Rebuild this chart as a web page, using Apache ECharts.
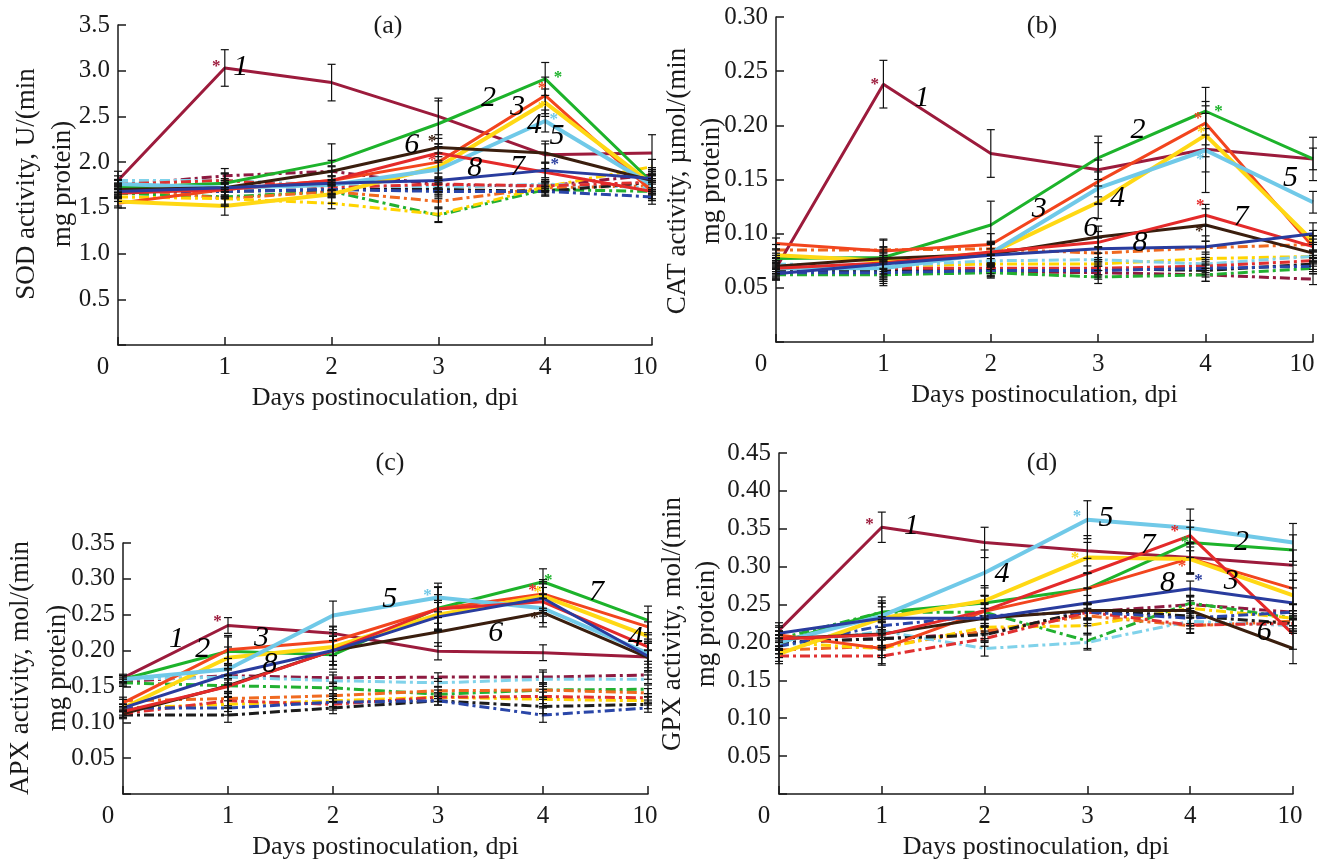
<!DOCTYPE html>
<html><head><meta charset="utf-8">
<script src="https://cdn.jsdelivr.net/npm/echarts@6/dist/echarts.min.js"></script>
<style>html,body{margin:0;padding:0;background:#fff}#c{width:1325px;height:861px}</style>
</head><body><div id="c"></div>
<script>
// ---------------- DATA ----------------
const xLabels = ['0', '1', '2', '3', '4', '10'];
const seriesNames = ['1', '2', '3', '4', '5', '6', '7', '8'];

// (a) SOD
const sodTreated = [
  [1.80, 3.03, 2.87, 2.50, 2.08, 2.10],
  [1.72, 1.77, 2.00, 2.42, 2.91, 1.78],
  [1.55, 1.70, 1.80, 2.00, 2.73, 1.68],
  [1.57, 1.52, 1.65, 1.95, 2.65, 1.76],
  [1.76, 1.72, 1.75, 1.92, 2.45, 1.75],
  [1.70, 1.72, 1.90, 2.16, 2.10, 1.80],
  [1.66, 1.70, 1.80, 2.10, 1.89, 1.68],
  [1.68, 1.72, 1.77, 1.80, 1.91, 1.82]
];
const sodTreatedErr = [
  [0.10, 0.20, 0.20, 0.20, 0.15, 0.20],
  [0.05, 0.10, 0.20, 0.25, 0.18, 0.10],
  [0.05, 0.08, 0.15, 0.20, 0.20, 0.10],
  [0.05, 0.10, 0.10, 0.15, 0.15, 0.10],
  [0.05, 0.10, 0.10, 0.10, 0.12, 0.10],
  [0.05, 0.08, 0.12, 0.10, 0.10, 0.10],
  [0.05, 0.08, 0.10, 0.10, 0.10, 0.10],
  [0.05, 0.08, 0.08, 0.08, 0.08, 0.10]
];
const sodControl = [
  [1.75, 1.85, 1.90, 1.75, 1.74, 1.86],
  [1.66, 1.62, 1.68, 1.42, 1.70, 1.68],
  [1.72, 1.60, 1.68, 1.57, 1.72, 1.74],
  [1.62, 1.60, 1.55, 1.43, 1.73, 1.95],
  [1.80, 1.80, 1.75, 1.72, 1.76, 1.72],
  [1.70, 1.68, 1.70, 1.70, 1.68, 1.78],
  [1.76, 1.80, 1.72, 1.76, 1.74, 1.78],
  [1.68, 1.68, 1.70, 1.68, 1.68, 1.62]
];
const sodControlErr = [0.05, 0.08, 0.06, 0.08, 0.05, 0.08];
const sodStars = [[0.92, 3.05, 0], [4.12, 2.92, 1], [3.97, 2.80, 2], [3.97, 2.60, 3], [4.08, 2.47, 4], [2.94, 2.23, 5], [2.94, 2.02, 6], [4.09, 1.97, 7]];
const sodNums = [[1.15, 3.04, '1'], [3.47, 2.70, '2'], [3.74, 2.60, '3'], [3.90, 2.41, '4'], [4.11, 2.28, '5'], [2.75, 2.19, '6'], [3.74, 1.95, '7'], [3.34, 1.93, '8']];

// (b) CAT
const catTreated = [
  [0.068, 0.238, 0.174, 0.159, 0.178, 0.169],
  [0.077, 0.078, 0.108, 0.170, 0.213, 0.169],
  [0.091, 0.084, 0.090, 0.148, 0.202, 0.088],
  [0.080, 0.075, 0.082, 0.129, 0.191, 0.093],
  [0.068, 0.068, 0.082, 0.142, 0.177, 0.129],
  [0.070, 0.077, 0.081, 0.097, 0.108, 0.082],
  [0.068, 0.073, 0.083, 0.092, 0.117, 0.088],
  [0.063, 0.072, 0.080, 0.086, 0.088, 0.100]
];
const catTreatedErr = [
  [0.010, 0.022, 0.022, 0.025, 0.040, 0.020],
  [0.005, 0.010, 0.022, 0.020, 0.022, 0.010],
  [0.005, 0.010, 0.010, 0.020, 0.020, 0.010],
  [0.005, 0.010, 0.010, 0.015, 0.020, 0.010],
  [0.005, 0.010, 0.010, 0.015, 0.020, 0.010],
  [0.005, 0.010, 0.010, 0.010, 0.015, 0.010],
  [0.005, 0.010, 0.010, 0.010, 0.010, 0.010],
  [0.005, 0.010, 0.010, 0.010, 0.010, 0.010]
];
const catControl = [
  [0.065, 0.066, 0.065, 0.064, 0.062, 0.058],
  [0.062, 0.062, 0.064, 0.060, 0.062, 0.068],
  [0.085, 0.085, 0.086, 0.082, 0.087, 0.090],
  [0.070, 0.070, 0.072, 0.072, 0.077, 0.079],
  [0.072, 0.070, 0.075, 0.076, 0.072, 0.079],
  [0.066, 0.066, 0.066, 0.068, 0.066, 0.072],
  [0.068, 0.068, 0.068, 0.068, 0.070, 0.075],
  [0.064, 0.064, 0.066, 0.066, 0.068, 0.070]
];
const catControlErr = [0.005, 0.010, 0.005, 0.006, 0.006, 0.005];
const catStars = [[0.92, 0.238, 0], [4.12, 0.213, 1], [3.93, 0.206, 2], [3.96, 0.193, 3], [3.95, 0.168, 4], [3.94, 0.102, 5], [3.95, 0.126, 6]];
const catNums = [[1.36, 0.225, '1'], [3.37, 0.196, '2'], [2.45, 0.123, '3'], [3.18, 0.133, '4'], [4.79, 0.151, '5'], [2.93, 0.105, '6'], [4.33, 0.115, '7'], [3.39, 0.091, '8']];

// (c) APX
const apxTreated = [
  [0.162, 0.235, 0.224, 0.199, 0.197, 0.191],
  [0.160, 0.199, 0.194, 0.259, 0.296, 0.242],
  [0.127, 0.201, 0.213, 0.258, 0.279, 0.233],
  [0.120, 0.190, 0.205, 0.250, 0.276, 0.220],
  [0.160, 0.174, 0.249, 0.274, 0.259, 0.196],
  [0.112, 0.151, 0.200, 0.226, 0.253, 0.190],
  [0.115, 0.150, 0.200, 0.258, 0.268, 0.205],
  [0.120, 0.167, 0.200, 0.247, 0.273, 0.192]
];
const apxTreatedErr = [
  [0.005, 0.011, 0.010, 0.012, 0.011, 0.010],
  [0.005, 0.020, 0.020, 0.030, 0.018, 0.020],
  [0.005, 0.020, 0.020, 0.030, 0.020, 0.020],
  [0.005, 0.015, 0.020, 0.020, 0.020, 0.020],
  [0.005, 0.015, 0.020, 0.020, 0.020, 0.020],
  [0.005, 0.015, 0.020, 0.020, 0.020, 0.020],
  [0.005, 0.015, 0.020, 0.020, 0.020, 0.020],
  [0.005, 0.015, 0.020, 0.020, 0.020, 0.020]
];
const apxControl = [
  [0.157, 0.165, 0.162, 0.163, 0.163, 0.166],
  [0.155, 0.151, 0.148, 0.139, 0.145, 0.146],
  [0.130, 0.133, 0.137, 0.144, 0.145, 0.141],
  [0.120, 0.125, 0.130, 0.135, 0.132, 0.130],
  [0.160, 0.163, 0.158, 0.155, 0.160, 0.160],
  [0.110, 0.110, 0.120, 0.130, 0.122, 0.125],
  [0.112, 0.130, 0.125, 0.135, 0.136, 0.134],
  [0.120, 0.120, 0.128, 0.130, 0.110, 0.120]
];
const apxControlErr = [0.005, 0.010, 0.008, 0.006, 0.010, 0.006];
const apxStars = [[0.9, 0.240, 0], [4.05, 0.298, 1], [3.95, 0.281, 3], [2.9, 0.277, 4], [3.92, 0.245, 5], [3.9, 0.283, 6]];
const apxNums = [[0.51, 0.216, '1'], [0.76, 0.202, '2'], [1.32, 0.218, '3'], [4.88, 0.218, '4'], [2.54, 0.272, '5'], [3.55, 0.225, '6'], [4.51, 0.281, '7'], [1.40, 0.181, '8']];

// (d) GPX
const gpxTreated = [
  [0.216, 0.352, 0.332, 0.321, 0.312, 0.302],
  [0.200, 0.240, 0.252, 0.271, 0.332, 0.322],
  [0.210, 0.192, 0.241, 0.271, 0.311, 0.271],
  [0.185, 0.232, 0.255, 0.312, 0.310, 0.262],
  [0.200, 0.235, 0.292, 0.362, 0.351, 0.332],
  [0.205, 0.211, 0.232, 0.242, 0.242, 0.192],
  [0.205, 0.210, 0.242, 0.291, 0.341, 0.211],
  [0.212, 0.232, 0.232, 0.252, 0.271, 0.252]
];
const gpxTreatedErr = [
  [0.010, 0.020, 0.020, 0.020, 0.020, 0.020],
  [0.010, 0.020, 0.020, 0.020, 0.020, 0.020],
  [0.010, 0.020, 0.020, 0.020, 0.020, 0.020],
  [0.010, 0.020, 0.020, 0.020, 0.020, 0.020],
  [0.010, 0.020, 0.030, 0.025, 0.025, 0.025],
  [0.010, 0.015, 0.020, 0.020, 0.020, 0.020],
  [0.010, 0.020, 0.020, 0.020, 0.020, 0.020],
  [0.010, 0.015, 0.020, 0.020, 0.010, 0.020]
];
const gpxControl = [
  [0.200, 0.205, 0.212, 0.240, 0.250, 0.240],
  [0.205, 0.240, 0.240, 0.202, 0.252, 0.232],
  [0.190, 0.195, 0.215, 0.235, 0.222, 0.228],
  [0.200, 0.192, 0.220, 0.222, 0.245, 0.232],
  [0.195, 0.215, 0.192, 0.200, 0.228, 0.222],
  [0.200, 0.205, 0.210, 0.242, 0.235, 0.225],
  [0.182, 0.182, 0.205, 0.240, 0.223, 0.225],
  [0.195, 0.222, 0.235, 0.240, 0.232, 0.240]
];
const gpxControlErr = [0.010, 0.012, 0.010, 0.010, 0.010, 0.010];
const gpxStars = [[0.88, 0.356, 0], [3.95, 0.332, 1], [3.92, 0.300, 2], [2.88, 0.310, 3], [2.9, 0.366, 4], [3.85, 0.346, 6], [4.08, 0.281, 7]];
const gpxNums = [[1.29, 0.353, '1'], [4.50, 0.332, '2'], [4.40, 0.281, '3'], [2.17, 0.290, '4'], [3.18, 0.364, '5'], [4.72, 0.213, '6'], [3.59, 0.328, '7'], [3.78, 0.278, '8']];

const panelTitles = ['(a)', '(b)', '(c)', '(d)'];
const yNames = [
  ['SOD activity, U/(min', 'mg protein)'],
  ['CAT activity, \u00b5mol/(min', 'mg protein)'],
  ['APX activity, mol/(min', 'mg protein)'],
  ['GPX activity, mol/(min', 'mg protein)']
];
const xName = 'Days postinoculation, dpi';

// ---------------- STYLE / LAYOUT ----------------
const FONT = '"Liberation Serif", "Times New Roman", serif';
const TREAT_COLORS = ['#9c1b3c', '#1db32b', '#f2451e', '#ffd814', '#70c9e8', '#3a1e0e', '#e42a2a', '#293c9e'];
const CTRL_COLORS = ['#8e1a40', '#22b030', '#f06a20', '#ffd400', '#80d2ea', '#1c1c1c', '#e03030', '#2a46a8'];
const TREAT_W = [3, 3, 3, 4, 4, 3, 3, 3];
const INK = '#1a1a1a';

const panels = [
  { treated: sodTreated, tErr: sodTreatedErr, control: sodControl, cErr: sodControlErr, stars: sodStars, nums: sodNums,
    yMax: 3.5, yInt: 0.5, dec: 1, grid: { left: 118, top: 25, width: 534, height: 320 },
    title: [388, 26], yn: [[27, 184], [63, 184]], pad10: 14 },
  { treated: catTreated, tErr: catTreatedErr, control: catControl, cErr: catControlErr, stars: catStars, nums: catNums,
    yMax: 0.30, yInt: 0.05, dec: 2, grid: { left: 776, top: 17, width: 537, height: 325 },
    title: [1042, 26], yn: [[678, 181], [712, 181]], pad10: 22 },
  { treated: apxTreated, tErr: apxTreatedErr, control: apxControl, cErr: apxControlErr, stars: apxStars, nums: apxNums,
    yMax: 0.35, yInt: 0.05, dec: 2, grid: { left: 123, top: 543, width: 525, height: 253 },
    title: [390, 463], yn: [[21, 668], [58, 668]], pad10: 6 },
  { treated: gpxTreated, tErr: gpxTreatedErr, control: gpxControl, cErr: gpxControlErr, stars: gpxStars, nums: gpxNums,
    yMax: 0.45, yInt: 0.05, dec: 2, grid: { left: 779, top: 453, width: 514, height: 343 },
    title: [1042, 463], yn: [[673, 624], [707, 624]], pad10: 6 }
];

const grids = [], xAxes = [], yAxes = [], series = [], graphics = [];
const CLEAR = 'rgba(0,0,0,0)';

function errRender(params, api) {
  const x = api.value(0), lo = api.value(1), hi = api.value(2);
  const p1 = api.coord([x, lo]), p2 = api.coord([x, hi]);
  const w = 4, st = { stroke: '#111', lineWidth: 1.2 };
  return { type: 'group', children: [
    { type: 'line', shape: { x1: p1[0], y1: p1[1], x2: p2[0], y2: p2[1] }, style: st },
    { type: 'line', shape: { x1: p1[0] - w, y1: p1[1], x2: p1[0] + w, y2: p1[1] }, style: st },
    { type: 'line', shape: { x1: p2[0] - w, y1: p2[1], x2: p2[0] + w, y2: p2[1] }, style: st }
  ] };
}

panels.forEach((p, k) => {
  grids.push(Object.assign({ containLabel: false }, p.grid));
  xAxes.push({
    type: 'value', gridIndex: k, min: 0, max: 5, interval: 1,
    axisLine: { show: true, lineStyle: { color: INK, width: 1.5 } },
    axisTick: { show: true, inside: true, length: 8, lineStyle: { color: INK, width: 1.5 } },
    splitLine: { show: false },
    axisLabel: {
      show: true, showMinLabel: true, showMaxLabel: true, margin: 10,
      fontFamily: FONT, fontSize: 25, color: INK,
      formatter: v => {
        const t = xLabels[Math.round(v)];
        if (v === 0) return '{z|' + t + '}';
        if (v === 5) return '{t|' + t + '}';
        return t;
      },
      rich: {
        z: { fontFamily: FONT, fontSize: 25, color: INK, padding: [0, 30, 0, 0] },
        t: { fontFamily: FONT, fontSize: 25, color: INK, padding: [0, p.pad10, 0, 0] }
      }
    },
    name: xName, nameLocation: 'middle', nameGap: 40,
    nameTextStyle: { fontFamily: FONT, fontSize: 26, color: INK }
  });
  yAxes.push({
    type: 'value', gridIndex: k, min: 0, max: p.yMax, interval: p.yInt,
    axisLine: { show: true, lineStyle: { color: INK, width: 1.5 } },
    axisTick: { show: true, inside: true, length: 8, lineStyle: { color: INK, width: 1.5 } },
    splitLine: { show: false },
    axisLabel: {
      show: true, margin: 8, fontFamily: FONT, fontSize: 25, color: INK,
      formatter: v => (Math.abs(v) < 1e-9 ? '' : v.toFixed(p.dec))
    }
  });

  // control (dash-dot) lines
  p.control.forEach((vals, s) => {
    series.push({
      type: 'line', xAxisIndex: k, yAxisIndex: k, name: 'c' + seriesNames[s],
      data: vals.map((v, i) => [i, v]), showSymbol: false, symbol: 'none', silent: true,
      lineStyle: { color: CTRL_COLORS[s], width: 3, type: [10, 4, 3, 4] }, z: 2
    });
  });
  // treated (solid) lines
  p.treated.forEach((vals, s) => {
    series.push({
      type: 'line', xAxisIndex: k, yAxisIndex: k, name: seriesNames[s],
      data: vals.map((v, i) => [i, v]), showSymbol: false, symbol: 'none', silent: true,
      lineStyle: { color: TREAT_COLORS[s], width: TREAT_W[s], type: 'solid' }, z: 3
    });
  });
  // error bars
  const errData = [];
  p.control.forEach(vals => vals.forEach((v, i) => errData.push([i, v - p.cErr[i], v + p.cErr[i]])));
  p.treated.forEach((vals, s) => vals.forEach((v, i) => errData.push([i, v - p.tErr[s][i], v + p.tErr[s][i]])));
  series.push({
    type: 'custom', xAxisIndex: k, yAxisIndex: k, renderItem: errRender,
    encode: { x: 0, y: [1, 2] }, data: errData, silent: true, z: 4
  });
  // asterisks
  series.push({
    type: 'scatter', xAxisIndex: k, yAxisIndex: k, symbol: 'circle', symbolSize: 2,
    itemStyle: { color: CLEAR, borderWidth: 0, opacity: 1 }, silent: true, z: 5,
    data: p.stars.map(s => ({ value: [s[0], s[1]], label: { color: TREAT_COLORS[s[2]] } })),
    label: { show: true, position: 'inside', formatter: '*', fontSize: 17, fontWeight: 'bold', fontFamily: FONT, opacity: 1 }
  });
  // curve numbers
  series.push({
    type: 'scatter', xAxisIndex: k, yAxisIndex: k, symbol: 'circle', symbolSize: 2,
    itemStyle: { color: CLEAR, borderWidth: 0, opacity: 1 }, silent: true, z: 6,
    data: p.nums.map(n => ({ value: [n[0], n[1]], name: n[2] })),
    label: { show: true, position: 'inside', formatter: '{b}', fontSize: 30, fontStyle: 'italic', fontFamily: FONT, color: '#000', opacity: 1 }
  });

  graphics.push({
    type: 'text', x: p.title[0], y: p.title[1],
    style: { text: panelTitles[k], font: '26px ' + FONT, fill: INK, align: 'center', verticalAlign: 'middle', textAlign: 'center', textVerticalAlign: 'middle' }
  });
  yNames[k].forEach((line, j) => {
    graphics.push({
      type: 'text', x: p.yn[j][0], y: p.yn[j][1], rotation: Math.PI / 2,
      style: { text: line, font: '27px ' + FONT, fill: INK, align: 'center', verticalAlign: 'middle', textAlign: 'center', textVerticalAlign: 'middle' }
    });
  });
});

const chart = echarts.init(document.getElementById('c'), null, { renderer: 'canvas' });
chart.setOption({
  animation: false,
  backgroundColor: '#fff',
  grid: grids, xAxis: xAxes, yAxis: yAxes, series: series, graphic: graphics
});
</script></body></html>
